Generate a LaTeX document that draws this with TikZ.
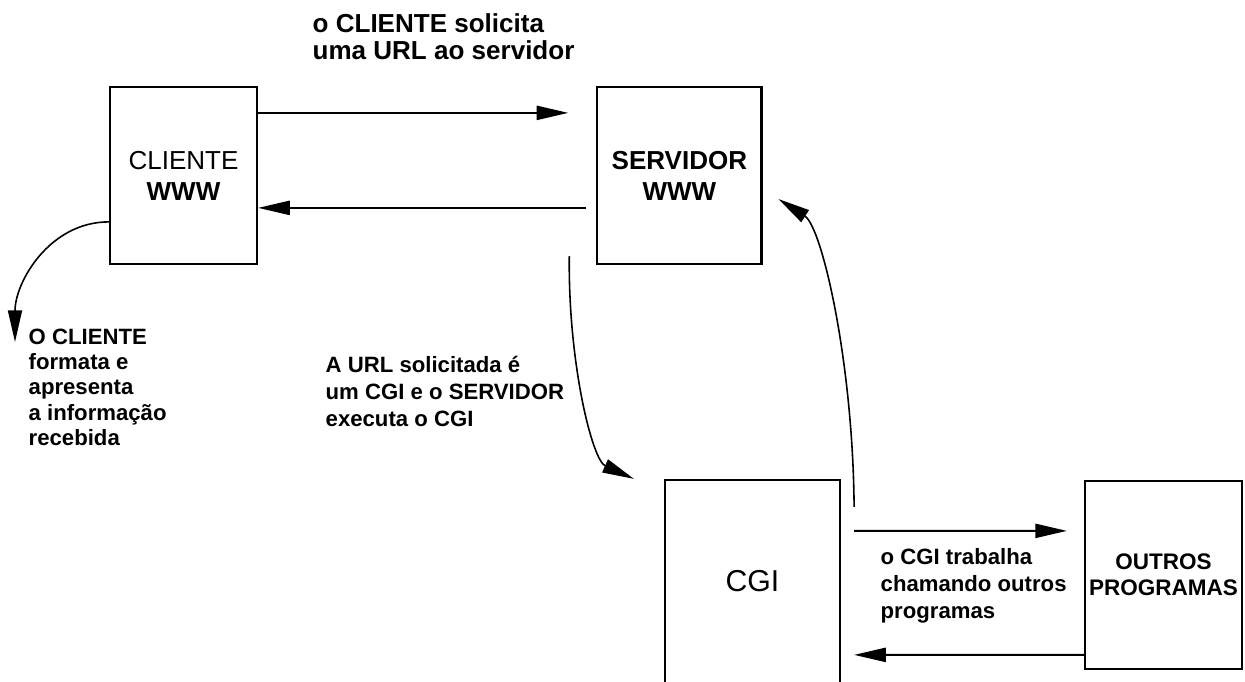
\documentclass[tikz,border=0pt]{standalone}
\usepackage{fontspec}
\setsansfont{Liberation Sans}
\usetikzlibrary{arrows.meta,positioning,calc}
\tikzset{
  >={Triangle[length=9pt,width=4pt]},
  box/.style={rectangle,draw,line width=0.6pt,inner sep=0pt,align=center,font=\sffamily\bfseries\fontsize{7.4}{8.8}\selectfont},
  flow/.style={->,line width=0.6pt},
  curve/.style={->,line width=0.45pt},
  note/.style={inner sep=0pt,align=left,anchor=north west,font=\sffamily\bfseries\fontsize{6.3}{7.6}\selectfont},
  toptext/.style={note,font=\sffamily\bfseries\fontsize{7.4}{7.7}\selectfont}
}

\begin{document}
\begin{tikzpicture}[x=0.01cm,y=0.01cm]
  \useasboundingbox (0,0) rectangle (1245,682);

  % Cliente and servidor
  \node[box,minimum width=1.47cm,minimum height=1.77cm] (cli) at (183.5,506.5) {{\mdseries CLIENTE}\\WWW};
  \node[box,minimum width=1.64cm,minimum height=1.77cm,right=3.38cm of cli] (srv) {SERVIDOR\\WWW};

  % CGI (open at the bottom) and other programs
  \node[box,draw=none,minimum width=1.73cm,minimum height=2.01cm,font=\sffamily\fontsize{8.6}{9}\selectfont] (cgi) at (752.5,100.5) {CGI};
  \draw[line width=0.6pt] (cgi.south west) -- (cgi.north west) -- (cgi.north east) -- (cgi.south east);
  \node[box,minimum width=1.57cm,minimum height=1.88cm,font=\sffamily\bfseries\fontsize{6.4}{7.3}\selectfont] (out) at (1163.5,107) {OUTROS\\PROGRAMAS};

  % Texts
  \node[toptext] (req) at (312,669) {o CLIENTE solicita\\uma URL ao servidor};
  \node[note,font=\sffamily\bfseries\fontsize{6.3}{7.2}\selectfont] (fmt) at (28,354) {O CLIENTE\\formata e\\apresenta\\a informação\\recebida};
  \node[note] (exe) at (325,326) {A URL solicitada é\\um CGI e o SERVIDOR\\executa o CGI};
  \node[note] (work) at (880,134) {o CGI trabalha\\chamando outros\\programas};
  \coordinate (fmtin) at (15,340);

  % Request and answer
  \draw[flow] ($(cli.north east)+(0,-27)$) -- ($(srv.north west)+(-28,-27)$);
  \draw[flow] ($(srv.north west)+(-10,-122)$) -- ($(cli.north east)+(0,-122)$);
  \draw[curve] ($(cli.north west)+(0,-136)$) to[out=180,in=90] (fmtin);

  % Servidor runs the CGI, CGI answers
  \draw[curve] ($(srv.south west)+(-27,9)$) .. controls (568,320) and (592,222) .. ($(cgi.north west)+(-31,1)$);
  \draw[curve] ($(cgi.north east)+(14,-27)$) .. controls (853,320) and (822,455) .. ($(srv.south east)+(16,66)$);

  % CGI and the other programs
  \draw[flow] ($(cgi.north east)+(14,-51)$) -- ($(out.north west)+(-17,-51)$);
  \draw[flow] ($(out.north west)+(0,-175)$) -- ($(cgi.north east)+(14,-175)$);
\end{tikzpicture}
\end{document}
